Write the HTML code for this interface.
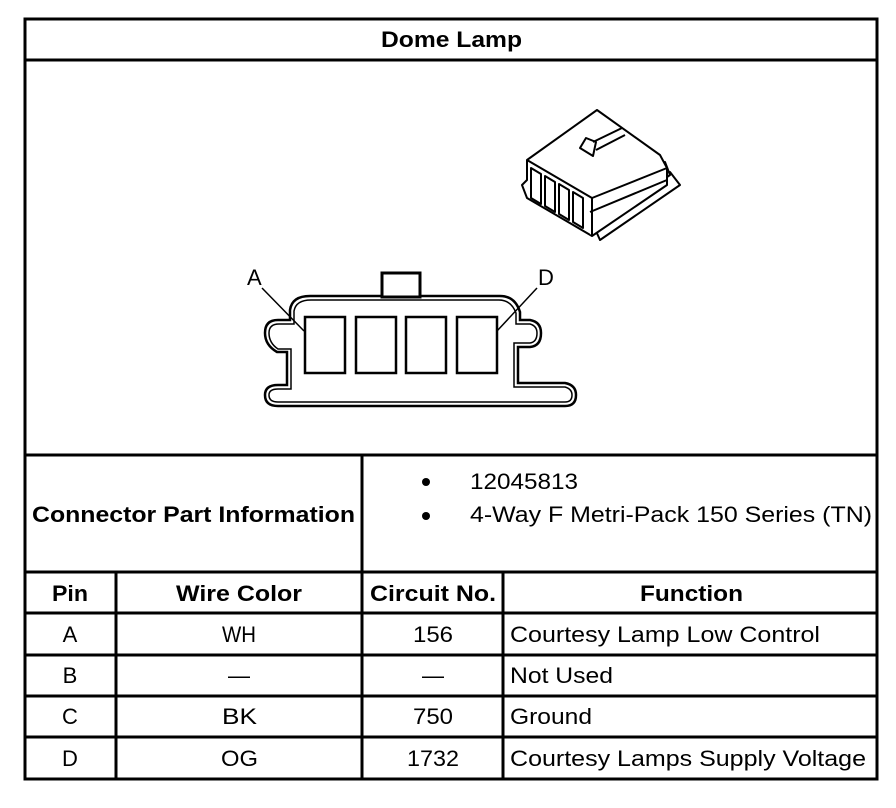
<!DOCTYPE html>
<html><head><style>
body{margin:0;background:#fff}
svg{display:block}
text{font-family:"Liberation Sans",Arial,sans-serif;fill:#000}
.b{font-weight:bold;font-size:22px}
.r{font-size:22px}
</style></head><body>
<svg width="896" height="808" viewBox="0 0 896 808">
<g stroke="#000" stroke-width="3" fill="none">
<rect x="25" y="19" width="852" height="760"/>
<line x1="25" y1="60" x2="877" y2="60"/>
<line x1="25" y1="455" x2="877" y2="455"/>
<line x1="25" y1="572" x2="877" y2="572"/>
<line x1="25" y1="613" x2="877" y2="613"/>
<line x1="25" y1="655" x2="877" y2="655"/>
<line x1="25" y1="696" x2="877" y2="696"/>
<line x1="25" y1="737" x2="877" y2="737"/>
<line x1="362" y1="455" x2="362" y2="779"/>
<line x1="116" y1="572" x2="116" y2="779"/>
<line x1="503" y1="572" x2="503" y2="779"/>
</g>
<g fill="none" stroke="#000">
<path stroke-width="2.5" d="M287,385 L287,352 L277,352 Q265,345 265,333 Q265,320 278,320 L290,320 L290,310 Q292,296 310,296 L500,296 Q515,296 520,312 L520,320 L530,320 Q541,322 541,333 Q541,346 530,347 L518,347 L518,383 L565,383 Q576,385 576,395 Q576,406 565,406 L278,406 Q265,406 265,395 Q265,385 278,385 Z"/>
<path stroke-width="1.5" d="M291,389 L291,349 L278,349 Q269,343 269,333 Q269,324 279,324 L294,324 L294,311 Q296,300 311,300 L499,300 Q511,300 516,313 L516,324 L530,324 Q537,326 537,333 Q537,342 530,343 L514,343 L514,387 L565,387 Q572,389 572,395 Q572,402 565,402 L278,402 Q269,402 269,395 Q269,389 278,389 Z"/>
<rect x="382" y="273" width="38" height="24" stroke-width="3" fill="#fff"/>
<g stroke-width="2.5">
<rect x="305" y="317" width="40" height="56"/>
<rect x="356" y="317" width="40" height="56"/>
<rect x="406" y="317" width="40" height="56"/>
<rect x="457" y="317" width="40" height="56"/>
</g>
<line x1="262" y1="288" x2="304" y2="331" stroke-width="1.5"/>
<line x1="537" y1="288" x2="497" y2="331" stroke-width="1.5"/>
</g>
<text x="247" y="285" class="r" font-size="20">A</text>
<text x="538" y="285" class="r" font-size="20">D</text>
<!-- iso connector -->
<g fill="#fff" stroke="#000" stroke-width="2" stroke-linejoin="round">
<path d="M592,222 L670,172 L680,185 L600,240 Z"/>
<path d="M590,212 L665,162 L670,175 L596,226 Z"/>
<path d="M527,160 L597,110 L660,155 L667,168 L667,185 L592,236 L527,198 L522,185 L527,180 Z"/>
<path d="M527,160 L592,198 L592,236" />
<path d="M592,198 L667,168" fill="none"/>
<path d="M590,212 L667,180" fill="none"/>
<path d="M531,168 L541,174 L541,204 L531,198 Z"/>
<path d="M545,176 L555,182 L555,212 L545,206 Z"/>
<path d="M559,184 L569,190 L569,220 L559,214 Z"/>
<path d="M573,192 L583,198 L583,228 L573,222 Z"/>
<path d="M580,148 L586,138 L596,142 L593,156 Z"/>
<line x1="593" y1="142" x2="622" y2="128"/>
<line x1="596" y1="150" x2="625" y2="135"/>
</g>
<text x="381" y="47" class="b" textLength="141" lengthAdjust="spacingAndGlyphs">Dome Lamp</text>
<text x="32" y="522" class="b" textLength="323" lengthAdjust="spacingAndGlyphs">Connector Part Information</text>
<circle cx="426" cy="482" r="4"/>
<circle cx="426" cy="516" r="4"/>
<text x="470" y="489" class="r" textLength="108" lengthAdjust="spacingAndGlyphs">12045813</text>
<text x="470" y="522" class="r" textLength="402" lengthAdjust="spacingAndGlyphs">4-Way F Metri-Pack 150 Series (TN)</text>
<text x="52" y="601" class="b" textLength="36" lengthAdjust="spacingAndGlyphs">Pin</text>
<text x="176" y="601" class="b" textLength="126" lengthAdjust="spacingAndGlyphs">Wire Color</text>
<text x="370" y="601" class="b" textLength="126" lengthAdjust="spacingAndGlyphs">Circuit No.</text>
<text x="640" y="601" class="b" textLength="103" lengthAdjust="spacingAndGlyphs">Function</text>
<text x="70" y="642" class="r" text-anchor="middle">A</text><text x="222" y="642" class="r" textLength="34" lengthAdjust="spacingAndGlyphs">WH</text><text x="413" y="642" class="r" textLength="40" lengthAdjust="spacingAndGlyphs">156</text>
<text x="70" y="683" class="r" text-anchor="middle">B</text><text x="239" y="683" class="r" text-anchor="middle">—</text><text x="433" y="683" class="r" text-anchor="middle">—</text>
<text x="70" y="724" class="r" text-anchor="middle">C</text><text x="222" y="724" class="r" textLength="35" lengthAdjust="spacingAndGlyphs">BK</text><text x="413" y="724" class="r" textLength="40" lengthAdjust="spacingAndGlyphs">750</text>
<text x="70" y="766" class="r" text-anchor="middle">D</text><text x="221" y="766" class="r" textLength="37" lengthAdjust="spacingAndGlyphs">OG</text><text x="407" y="766" class="r" textLength="52" lengthAdjust="spacingAndGlyphs">1732</text>
<text x="510" y="642" class="r" textLength="310" lengthAdjust="spacingAndGlyphs">Courtesy Lamp Low Control</text>
<text x="510" y="683" class="r" textLength="103" lengthAdjust="spacingAndGlyphs">Not Used</text>
<text x="510" y="724" class="r" textLength="82" lengthAdjust="spacingAndGlyphs">Ground</text>
<text x="510" y="766" class="r" textLength="356" lengthAdjust="spacingAndGlyphs">Courtesy Lamps Supply Voltage</text>
</svg>
</body></html>
